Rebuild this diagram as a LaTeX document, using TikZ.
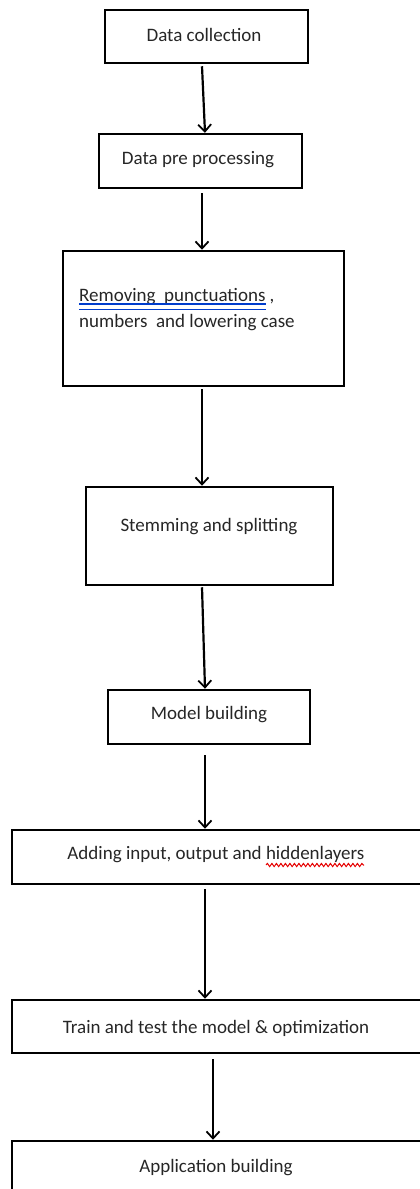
\documentclass[tikz,border=0pt]{standalone}
\usepackage{fontspec}
\setmainfont{Carlito}
\usetikzlibrary{arrows.meta,decorations.pathmorphing}
\begin{document}
\begin{tikzpicture}[x=1pt,y=-1pt,
  box/.style={draw=black,line width=2.5pt,minimum width=#1,inner sep=0pt},
  lbl/.style={font=\fontsize{19}{23}\selectfont,inner sep=0pt,text=black!85},
  arr/.style={line width=2.2pt,-{Straight Barb[length=7pt,width=13pt,line width=1.8pt]}}]
\useasboundingbox (0,0) rectangle (420,1189);
\clip (0,0) rectangle (420,1189);
% boxes
\node[box=203pt,minimum height=53pt] (b1) at (206.5,36.5) {};
\node[box=203pt,minimum height=54pt] (b2) at (200.5,161) {};
\node[box=281pt,minimum height=135pt] (b3) at (203.5,318.5) {};
\node[box=247pt,minimum height=98pt] (b4) at (209.5,536) {};
\node[box=202pt,minimum height=54pt] (b5) at (209,717) {};
\node[box=410pt,minimum height=54pt] (b6) at (217,857) {};
\node[box=410pt,minimum height=53pt] (b7) at (217,1026.5) {};
\node[box=410pt,minimum height=100pt] (b8) at (217,1191) {};
% texts
\node[lbl] (t1) at (204,35) {Data collection};
\node[lbl] (t2) at (198,160) {Data pre processing};
\node[lbl,anchor=west] (t3a) at (79,297) {Removing\ \ punctuations ,};
\node[lbl,anchor=west] (t3b) at (79,323) {numbers\ \ and lowering case};
\node[lbl] (t4) at (209,527) {Stemming and splitting};
\node[lbl] (t5) at (209,715) {Model building};
\node[lbl] (t6) at (216,855) {Adding input, output and hiddenlayers};
\node[lbl] (t7) at (216,1028) {Train and test the model \& optimization};
\node[lbl] (t8) at (216,1168) {Application building};
% spell-check marks
\coordinate (u1) at (79,304); \coordinate (u2) at (266,304);
\coordinate (u3) at (79,309.5); \coordinate (u4) at (266,309.5);
\draw[line width=1.2pt,blue!70!cyan!80!black] (u1) -- (u2) (u3) -- (u4);
\coordinate (w1) at (266,865); \coordinate (w2) at (364,865);
\draw[line width=1pt,red!90!black,decorate,decoration={snake,amplitude=1.6pt,segment length=4.5pt}] (w1) -- (w2);
% connectors
\draw[arr] ([xshift=-4.5pt,yshift=-2pt]b1.south) -- ([xshift=4.5pt]b2.north);
\draw[arr] ([xshift=1.5pt,yshift=-4pt]b2.south) -- ([xshift=-1.5pt]b3.north);
\draw[arr] ([xshift=-1.5pt,yshift=-2pt]b3.south) -- ([xshift=-7.5pt]b4.north);
\draw[arr] ([xshift=-7.5pt,yshift=-1pt]b4.south) -- ([xshift=-4pt]b5.north);
\draw[arr] ([xshift=-4pt,yshift=-10pt]b5.south) -- ([xshift=-12pt]b6.north);
\draw[arr] ([xshift=-12pt,yshift=-4pt]b6.south) -- ([xshift=-12pt]b7.north);
\draw[arr] ([xshift=-4pt,yshift=-5pt]b7.south) -- ([xshift=-4pt]b8.north);
\end{tikzpicture}
\end{document}
